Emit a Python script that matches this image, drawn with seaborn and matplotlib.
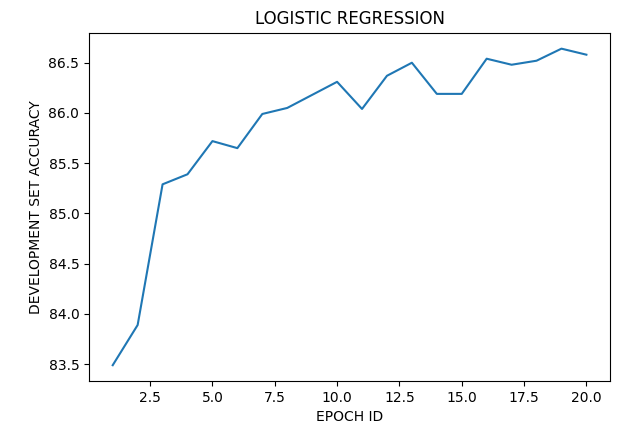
import pandas as pd
import matplotlib
matplotlib.use("Agg")
import matplotlib.pyplot as plt
import seaborn as sns

# Dev set accuracy per epoch
epochs = list(range(1, 21))
accuracy = [83.49, 83.89, 85.29, 85.39, 85.72, 85.65, 85.99, 86.05, 86.18, 86.31,
            86.04, 86.37, 86.50, 86.19, 86.19, 86.54, 86.48, 86.52, 86.64, 86.58]

df = pd.DataFrame({"epoch": epochs, "acc": accuracy})

fig, ax = plt.subplots(figsize=(6.27, 4.32), dpi=100)
fig.subplots_adjust(left=0.142, right=0.973, top=0.924, bottom=0.118)

sns.lineplot(data=df, x="epoch", y="acc", ax=ax, color="#1f77b4", linewidth=1.5)

ax.set_title("LOGISTIC REGRESSION")
ax.set_xlabel("EPOCH ID")
ax.set_ylabel("DEVELOPMENT SET ACCURACY")

fig.savefig("out.png", dpi=100)
